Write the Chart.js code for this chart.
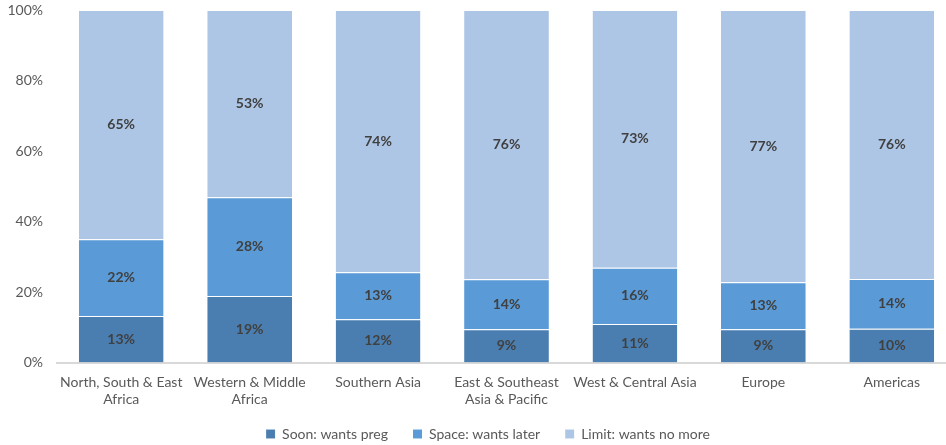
<!DOCTYPE html>
<html lang="en">
<head>
  <meta charset="UTF-8" />
  <title>Pregnancy intentions by region</title>
  <script src="https://cdn.jsdelivr.net/npm/chart.js"></script>
  <style>
    body {
      margin: 0;
      background: #ffffff;
      overflow: hidden;
    }

    .chart-box {
      width: 958px;
      height: 445px;
    }
  </style>
</head>
<body>
  <div class="chart-box"><canvas id="grafico"></canvas></div>

  <script>
    const regiones = [
      ['North, South & East', 'Africa'],
      ['Western & Middle', 'Africa'],
      'Southern Asia',
      ['East & Southeast', 'Asia & Pacific'],
      'West & Central Asia',
      'Europe',
      'Americas'
    ];

    const soon = [13.2, 18.9, 12.3, 9.4, 10.9, 9.4, 9.6];
    const space = [21.8, 28.0, 13.3, 14.2, 16.0, 13.4, 14.1];
    const limit = [65.0, 53.1, 74.4, 76.4, 73.1, 77.2, 76.3];

    const yTicks = [0, 20, 40, 60, 80, 100];

    const fuente = 'Lato, "Open Sans", sans-serif';

    // etiquetas de porcentaje en el centro de cada segmento
    const etiquetasBarras = {
      id: 'etiquetasBarras',
      afterDatasetsDraw(chart) {
        const ctx = chart.ctx;
        ctx.save();
        ctx.font = 'bold 14px ' + fuente;
        ctx.fillStyle = '#404040';
        ctx.textAlign = 'center';
        ctx.textBaseline = 'middle';
        chart.data.datasets.forEach((ds, i) => {
          chart.getDatasetMeta(i).data.forEach((bar, j) => {
            const y = (bar.y + bar.base) / 2;
            ctx.fillText(Math.round(ds.data[j]) + '%', bar.x, y);
          });
        });
        ctx.restore();
      }
    };

    // la leyenda va algo a la derecha y un poco mas arriba
    const moverLeyenda = {
      id: 'moverLeyenda',
      afterLayout(chart) {
        chart.legend.left += 10;
        chart.legend.right += 10;
        chart.legend.top -= 8.5;
        chart.legend.bottom -= 8.5;
      }
    };

    new Chart(document.getElementById('grafico'), {
      type: 'bar',
      data: {
        labels: regiones,
        datasets: [
          { label: 'Soon: wants preg', data: soon, backgroundColor: '#4a7eb0' },
          { label: 'Space: wants later', data: space, backgroundColor: '#5a9ad6' },
          { label: 'Limit: wants no more', data: limit, backgroundColor: '#aec6e6' }
        ]
      },
      options: {
        responsive: true,
        maintainAspectRatio: false,
        animation: false,
        layout: { padding: { top: 10, left: 0, right: 2, bottom: -14.5 } },
        datasets: {
          bar: {
            categoryPercentage: 1,
            barPercentage: 0.66,
            borderColor: 'rgba(255,255,255,0.3)',
            borderWidth: { top: 1 }
          }
        },
        scales: {
          x: {
            stacked: true,
            grid: { display: false, drawTicks: false },
            border: { color: '#d9d9d9', width: 2 },
            afterFit: scale => { scale.height = 48; },
            ticks: {
              color: '#595959',
              font: { family: fuente, size: 14 },
              padding: 12,
              maxRotation: 0,
              autoSkip: false
            }
          },
          y: {
            stacked: true,
            min: 0,
            max: 100,
            grid: { display: false, drawTicks: false },
            border: { display: false },
            afterFit: scale => {
              scale.width = 57;
              scale.paddingTop = 0;
              scale.paddingBottom = 0;
            },
            afterBuildTicks: scale => {
              scale.ticks = yTicks.map(v => ({ value: v }));
            },
            ticks: {
              color: '#595959',
              font: { family: fuente, size: 14 },
              padding: 14,
              callback: value => value + '%'
            }
          }
        },
        plugins: {
          legend: {
            position: 'bottom',
            labels: {
              color: '#595959',
              font: { family: fuente, size: 14 },
              boxWidth: 9,
              boxHeight: 9,
              padding: 25
            }
          },
          tooltip: { enabled: false }
        }
      },
      plugins: [etiquetasBarras, moverLeyenda]
    });
  </script>
</body>
</html>
